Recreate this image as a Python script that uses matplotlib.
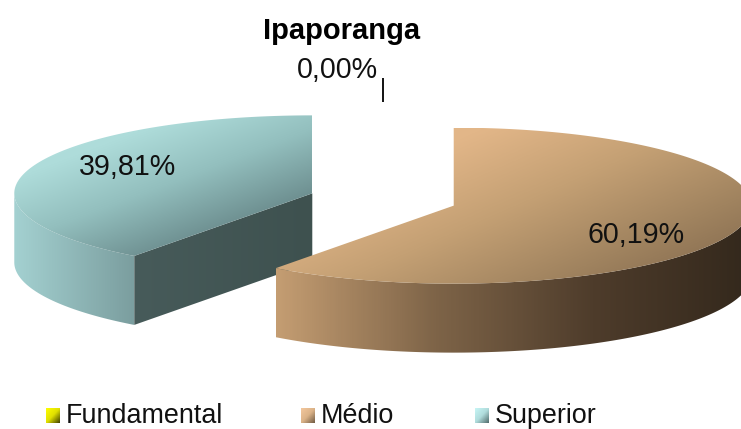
import numpy as np
import matplotlib
matplotlib.use('Agg')
import matplotlib.pyplot as plt
from matplotlib.colors import LinearSegmentedColormap
from matplotlib.patches import Polygon

plt.rcParams['font.family'] = ['Liberation Sans', 'DejaVu Sans']

title = 'Ipaporanga'
categories = ['Fundamental', 'Médio', 'Superior']
values = [0.00, 60.19, 39.81]
value_labels = ['0,00%', '60,19%', '39,81%']

# pie drawn in pixel space of the 741x429 picture
cx, cy = 383, 199.5
rx, ry = 298, 78
depth = 69
explode = 0.25


def cmap(*cols):
    return LinearSegmentedColormap.from_list('g', cols)


top_maps = {
    'Médio': cmap('#e6ba8c', '#e2b688', '#c4a074', '#a0835f', '#7d644a'),
    'Superior': cmap('#b6e4e2', '#aedcda', '#93bfbe', '#6f9192', '#557677'),
}
side_maps = {
    'Médio': cmap('#c49d72', '#7e6448', '#4e3c2b', '#33281c'),
    'Superior': cmap('#a4d1d1', '#7b9e9f'),
}
cut_map = cmap('#475b5a', '#3e514f')
legend_maps = {
    'Fundamental': cmap('#ffff00', '#e0e000', '#3f3f00'),
    'Médio': cmap('#f4c89e', '#dcb388', '#6f5a43'),
    'Superior': cmap('#c8f6f6', '#b0dcdc', '#4f6a6a'),
}


def point(ang, x0, y0, r=1.0):
    return x0 + r * rx * np.sin(ang), y0 - r * ry * np.cos(ang)


def grad(ax, verts, cm, wx=1.0, wy=0.0):
    verts = np.asarray(verts)
    x0, y0 = verts.min(axis=0)
    x1, y1 = verts.max(axis=0)
    u, v = np.meshgrid(np.linspace(0, 1, 300), np.linspace(0, 1, 200))
    im = ax.imshow((u * wx + v * wy) / (wx + wy), cmap=cm, vmin=0, vmax=1,
                   extent=(x0, x1, y1, y0), aspect='auto', interpolation='bilinear')
    im.set_clip_path(Polygon(verts, closed=True, transform=ax.transData))


fig = plt.figure(figsize=(7.41, 4.29), dpi=100)
ax = fig.add_axes([0, 0, 1, 1])

# slices clockwise from 12 o'clock
shares = np.array(values) / sum(values) * 2 * np.pi
starts = np.concatenate([[0], np.cumsum(shares)[:-1]])
top_weights = {'Médio': (1.0, 0.75), 'Superior': (0.8, 1.0)}

for i in [2, 1]:
    name = categories[i]
    a0, a1 = starts[i], starts[i] + shares[i]
    mid = (a0 + a1) / 2
    x0, y0 = point(mid, cx, cy, explode)
    ang = np.linspace(a0, a1, 200)
    xs, ys = point(ang, x0, y0)

    # rim, only the part facing the viewer
    front = np.linspace(max(a0, np.pi / 2), min(a1, 3 * np.pi / 2), 150)
    fx, fy = point(front, x0, y0)
    rim = np.concatenate([np.c_[fx, fy], np.c_[fx, fy + depth][::-1]])

    # cut face on the start side, visible for the back slice only
    if a0 > np.pi / 2:
        ex, ey = point(a0, x0, y0)
        cut = [(x0, y0), (ex, ey), (ex, ey + depth), (x0, y0 + depth)]
        grad(ax, cut, cut_map)
    grad(ax, rim, side_maps[name])
    grad(ax, np.r_[[[x0, y0]], np.c_[xs, ys]], top_maps[name], *top_weights[name])

# zero slice leader
ax.plot([cx, cx], [78, 102], color='black', lw=1.3, solid_capstyle='butt')

ax.text(341.5, 31, title, fontsize=21, fontweight='bold', ha='center', va='center', color='black')
ax.text(337.5, 70, value_labels[0], fontsize=20.6, ha='center', va='center', color='#111111')
ax.text(636, 235, value_labels[1], fontsize=20.6, ha='center', va='center', color='#111111')
ax.text(127.5, 167, value_labels[2], fontsize=20.6, ha='center', va='center', color='#111111')

# legend
legend_x = [46, 301, 475]
for name, lx in zip(categories, legend_x):
    grad(ax, [(lx, 408), (lx + 14, 408), (lx + 14, 423), (lx, 423)], legend_maps[name], 1.0, 1.0)
    ax.text(lx + 20, 423, name, fontsize=19.4, ha='left', va='baseline', color='#111111')

ax.set_xlim(0, 741)
ax.set_ylim(429, 0)
ax.axis('off')
fig.savefig('out.png', dpi=100)
